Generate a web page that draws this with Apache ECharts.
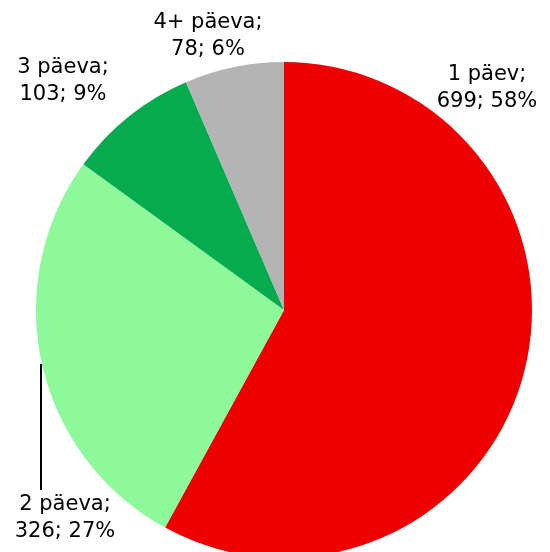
<!DOCTYPE html>
<html>
<head>
<meta charset="utf-8">
<script src="https://cdn.jsdelivr.net/npm/echarts@6/dist/echarts.min.js"></script>
<style>
html, body { margin: 0; padding: 0; background: #ffffff; }
#box { width: 550px; height: 552px; }
</style>
</head>
<body>
<div id="box"></div>
<script>
// andmed
const categories = ["1 päev", "2 päeva", "3 päeva", "4+ päeva"]
const values = [699, 326, 103, 78]
const percents = [58, 27, 9, 6]
const colors = ["#ee0000", "#8ef99b", "#06ab4d", "#b4b4b4"]
// label centres (px)
const labelPos = [[487, 88], [65, 518], [63, 81], [208, 36]]

let myCharts = echarts.init(document.getElementById("box"))
let option = {
	animation: false,
	color: colors,
	graphic: [
		{
			type: "line",
			shape: { x1: 41, y1: 364, x2: 41, y2: 490 },
			style: { stroke: "#000000", lineWidth: 2 },
		},
	],
	series: [
		{
			type: "pie",
			center: [284, 310],
			radius: [0, 248],
			startAngle: 90,
			clockwise: true,
			avoidLabelOverlap: false,
			label: {
				show: true,
				position: "outside",
				overflow: "none",
				fontFamily: "DejaVu Sans",
				fontSize: 21,
				lineHeight: 27,
				color: "#000000",
				align: "center",
				formatter: function(p) {
					return p.name + ";\n" + p.value + "; " + percents[p.dataIndex] + "%"
				},
			},
			labelLine: { show: false },
			labelLayout: function(params) {
				let pos = labelPos[params.dataIndex]
				return { x: pos[0], y: pos[1], align: "center", verticalAlign: "middle", hideOverlap: false }
			},
			data: categories.map((c, i) => ({ name: c, value: values[i] })),
		},
	],
}
myCharts.setOption(option)
</script>
</body>
</html>
